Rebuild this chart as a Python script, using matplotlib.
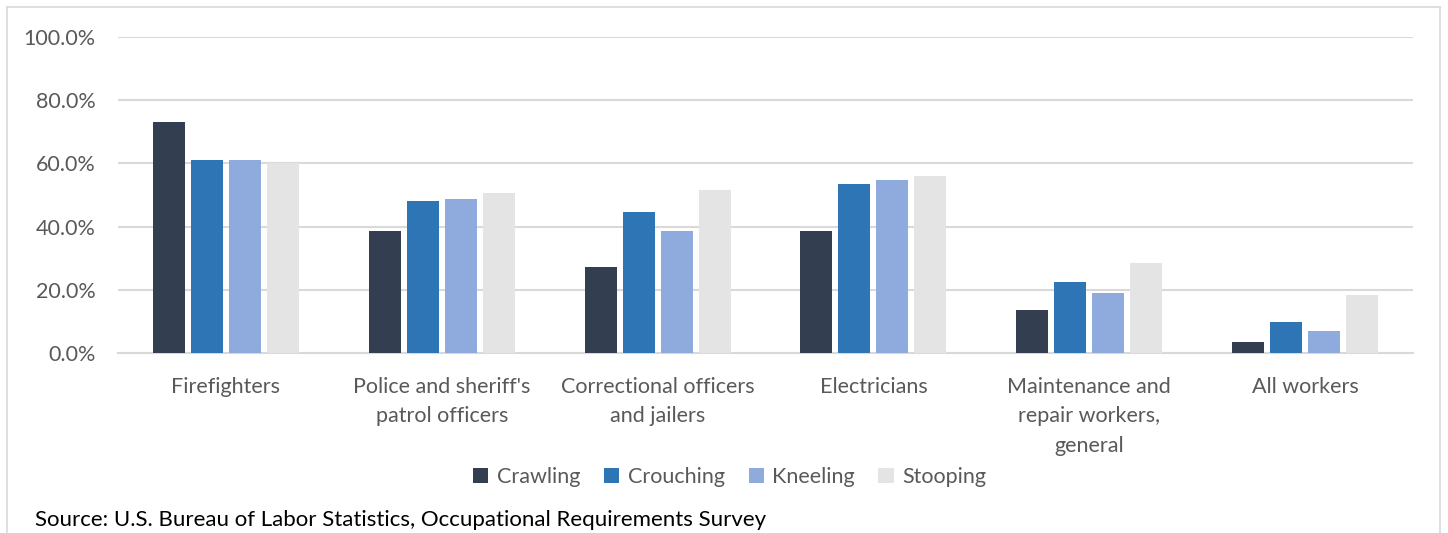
import matplotlib
matplotlib.use("Agg")
import matplotlib.pyplot as plt
from matplotlib.lines import Line2D
import numpy as np

plt.rcParams['font.family'] = ['Lato', 'DejaVu Sans']

categories = ["Firefighters", "Police and sheriff's\npatrol officers",
              "Correctional officers\nand jailers", "Electricians",
              "Maintenance and\nrepair workers,\ngeneral", "All workers"]
series = ["Crawling", "Crouching", "Kneeling", "Stooping"]
crawling = [73.1, 38.6, 27.2, 38.6, 13.7, 3.6]
crouching = [61.0, 48.0, 44.7, 53.5, 22.5, 9.7]
kneeling = [61.0, 48.7, 38.6, 54.8, 19.1, 7.0]
stooping = [60.0, 50.6, 51.5, 56.1, 28.5, 18.4]
colors = ["#333F50", "#2E75B6", "#8FAADC", "#E4E4E4"]

fig = plt.figure(figsize=(14.48, 5.33), dpi=100)
ax = fig.add_axes([0.0815, 0.3377, 0.8943, 0.5929])

x = np.arange(len(categories))
width = 0.148
step = 0.176
for i, (name, vals) in enumerate(zip(series, [crawling, crouching, kneeling, stooping])):
    ax.bar(x + (i - 1.5) * step, vals, width, color=colors[i], label=name, zorder=3)

ax.set_xlim(-0.5, len(categories) - 0.5)
ax.set_ylim(0, 100)
ax.set_yticks(np.arange(0, 101, 20))
ax.set_yticklabels([f"{v:.1f}%" for v in range(0, 101, 20)])
ax.yaxis.grid(True, color="#D9D9D9", linewidth=1.5, zorder=0)
for s in ["top", "right", "left"]:
    ax.spines[s].set_visible(False)
ax.spines["bottom"].set_color("#D9D9D9")
ax.spines["bottom"].set_linewidth(1.5)
ax.set_xticks(x)
ax.set_xticklabels(categories, linespacing=1.6)
ax.tick_params(axis="both", length=0, labelsize=15.5, labelcolor="#595959")
ax.tick_params(axis="x", pad=17)
ax.tick_params(axis="y", pad=16)

fig.legend(loc="center", bbox_to_anchor=(0.504, 0.105), ncol=4, frameon=False,
           fontsize=15.5, labelcolor="#595959", handlelength=0.7, handleheight=0.7,
           handletextpad=0.4, columnspacing=1.1)

fig.text(35 / 1448, 1 - 520 / 533, "Source: U.S. Bureau of Labor Statistics, Occupational Requirements Survey",
         fontsize=16, color="black", va="center")

# chart frame
bx0, bx1, by1 = 7 / 1448, 1440 / 1448, 1 - 7 / 533
for xs, ys in [([bx0, bx0], [0, by1]), ([bx0, bx1], [by1, by1]), ([bx1, bx1], [by1, 0])]:
    fig.add_artist(Line2D(xs, ys, color="#D9D9D9", linewidth=1.2, transform=fig.transFigure))

fig.savefig("out.png", dpi=100)
